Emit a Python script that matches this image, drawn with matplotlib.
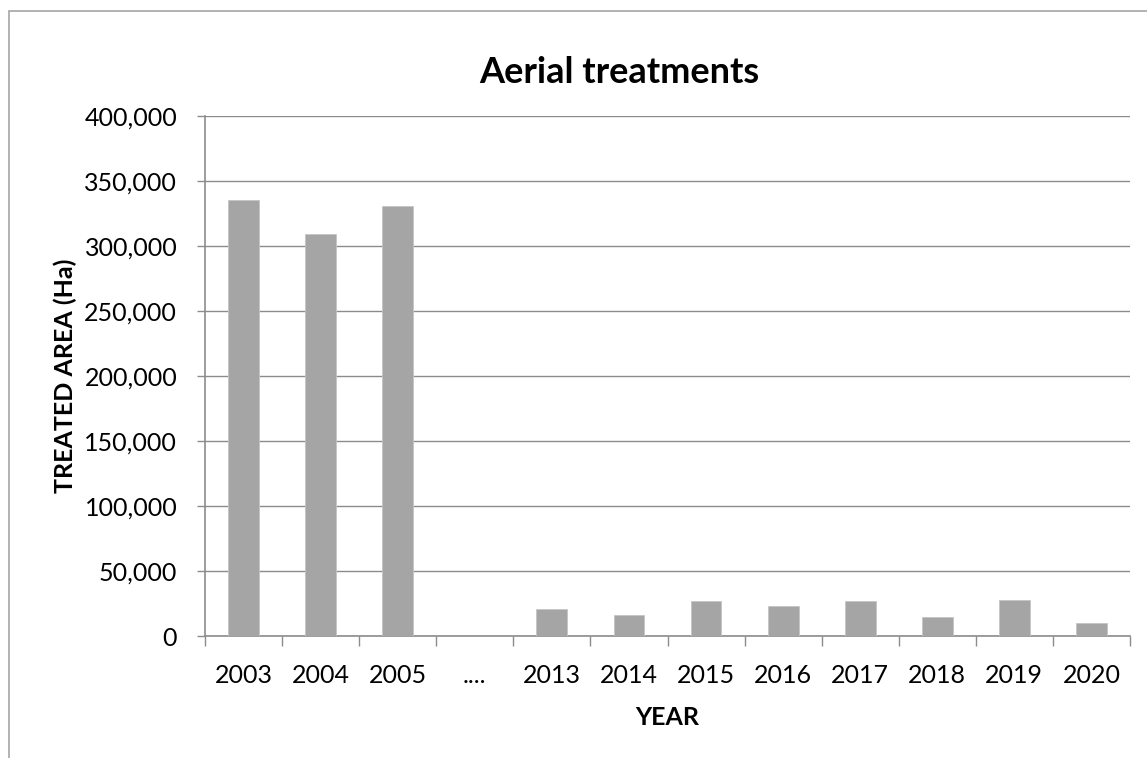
import numpy as np
import matplotlib.pyplot as plt
from matplotlib.patches import Rectangle
from matplotlib.ticker import FuncFormatter, FixedLocator

plt.rcParams['font.family'] = ['Lato', 'DejaVu Sans']

years = ['2003', '2004', '2005', '....', '2013', '2014', '2015', '2016',
         '2017', '2018', '2019', '2020']
treated_ha = [335000, 309000, 330500, 0, 20500, 16000, 27200, 23100,
              27200, 14400, 27700, 10000]

GRID = '#8c8c8c'
BAR = '#a5a5a5'

fig = plt.figure(figsize=(11.47, 7.58), dpi=100)
ax = fig.add_axes([205 / 1147, 1 - 636 / 758, 925 / 1147, 520 / 758])

x = np.arange(len(years))
ax.bar(x, treated_ha, width=0.4, color=BAR, edgecolor='#c4c4c4', linewidth=0.6, zorder=3)

ax.set_xlim(-0.5, len(years) - 0.5)
ax.set_ylim(0, 400000)
ax.set_yticks(np.arange(0, 400001, 50000))
ax.yaxis.set_major_formatter(FuncFormatter(lambda v, p: f'{int(v):,}'))
ax.yaxis.grid(True, color=GRID, linewidth=1.0, zorder=0)

# category labels centred, tick marks on the boundaries between them
ax.set_xticks(x)
ax.set_xticklabels(years)
ax.xaxis.set_minor_locator(FixedLocator(np.arange(-0.5, len(years), 1)))
ax.tick_params(axis='x', which='major', length=0, pad=20, labelsize=18)
ax.tick_params(axis='x', which='minor', length=7, width=1, color=GRID, direction='out')
ax.tick_params(axis='y', length=6, width=1, color=GRID, pad=14, labelsize=18)

for side in ['top', 'right']:
    ax.spines[side].set_visible(False)
for side in ['left', 'bottom']:
    ax.spines[side].set_color(GRID)
    ax.spines[side].set_linewidth(1.2)

ax.set_xlabel('YEAR', fontsize=18, fontweight='bold', labelpad=14)
ax.set_ylabel('TREATED AREA (Ha)', fontsize=18, fontweight='bold', labelpad=5)
fig.text(619 / 1147, 1 - 83 / 758, 'Aerial treatments', fontsize=26,
         fontweight='bold', ha='center', va='baseline')

# chart area frame
fig.patches.append(Rectangle((9 / 1147, -0.2), 1.2, 1.2 - 11 / 758,
                             transform=fig.transFigure, fill=False,
                             edgecolor='#a6a6a6', linewidth=1.2))

fig.savefig('out.png', dpi=100)
